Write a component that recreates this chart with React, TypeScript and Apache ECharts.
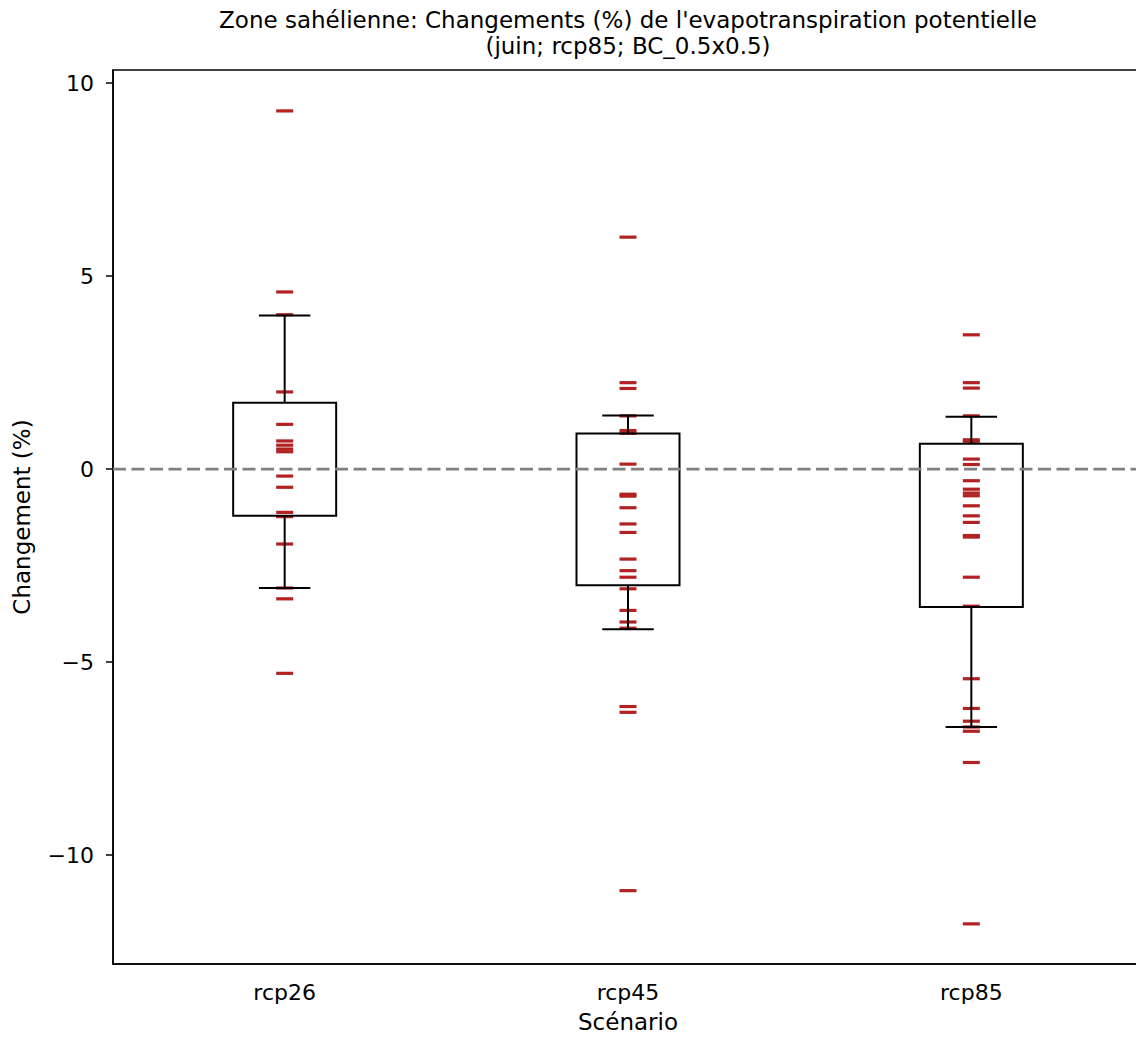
import React, { useEffect, useRef } from "react";
import * as echarts from "echarts";

const categories = ["rcp26", "rcp45", "rcp85"];

const rcp26Values = [9.28, 4.59, 4.0, 2.0, 1.16, 0.73, 0.62, 0.52, 0.45, -0.18, -0.47, -1.12, -1.23, -1.94, -3.08, -3.36, -5.29];
const rcp45Values = [6.01, 2.24, 2.09, 1.38, 1.0, 0.93, 0.13, -0.65, -0.7, -1.0, -1.42, -1.64, -2.33, -2.63, -2.8, -3.1, -3.66, -3.96, -4.12, -6.15, -6.3, -10.92];
const rcp85Values = [3.48, 2.24, 2.1, 1.38, 0.76, 0.72, 0.26, 0.12, -0.3, -0.52, -0.62, -0.69, -0.95, -1.21, -1.38, -1.72, -1.76, -2.8, -3.55, -5.43, -6.2, -6.53, -6.68, -6.79, -7.6, -11.78];

// [whisker low, Q1, Q3, whisker high]
const boxStats = [
  [-3.08, -1.21, 1.72, 3.98],
  [-4.15, -3.01, 0.92, 1.39],
  [-6.68, -3.57, 0.66, 1.36],
];

const yTicks = [-10, -5, 0, 5, 10];
const refLineValue = [0];

const title1 = "Zone sahélienne: Changements (%) de l'evapotranspiration potentielle";
const title2 = "(juin; rcp85; BC_0.5x0.5)";
const yName = "Changement (%)";
const xName = "Scénario";

const FONT = "DejaVu Sans";

export default function App() {
  const ref = useRef<HTMLDivElement>(null);
  useEffect(() => {
    if (!ref.current) return;
    const chart = echarts.init(ref.current, null, { renderer: "svg" });
    const allValues = [rcp26Values, rcp45Values, rcp85Values];
    const scatterData: number[][] = [];
    allValues.forEach((vals, i) => vals.forEach((v) => scatterData.push([i, v])));
    const boxData = boxStats.map((b, i) => [i, ...b]);

    chart.setOption({
      animation: false,
      backgroundColor: "#fff",
      textStyle: { fontFamily: FONT },
      grid: {
        left: 113,
        top: 70,
        right: 33,
        bottom: 72,
        show: true,
        borderColor: "#000",
        borderWidth: 1.5,
        backgroundColor: "transparent",
      },
      graphic: [
        {
          type: "text",
          x: 628,
          y: 20,
          style: {
            text: title1,
            font: `23px "${FONT}"`,
            fill: "#000",
            textAlign: "center",
            textVerticalAlign: "middle",
          },
        },
        {
          type: "text",
          x: 628,
          y: 46,
          style: {
            text: title2,
            font: `23px "${FONT}"`,
            fill: "#000",
            textAlign: "center",
            textVerticalAlign: "middle",
          },
        },
      ],
      xAxis: {
        type: "category",
        data: categories,
        boundaryGap: true,
        name: xName,
        nameLocation: "middle",
        nameGap: 46,
        nameTextStyle: { fontSize: 23, color: "#000", fontFamily: FONT, verticalAlign: "top" },
        axisLine: { onZero: false, lineStyle: { color: "#000", width: 1.5 } },
        axisTick: { alignWithLabel: true, length: 7, lineStyle: { color: "#000", width: 1.5 } },
        axisLabel: { fontSize: 22, color: "#000", fontFamily: FONT, margin: 17 },
        splitLine: { show: false },
      },
      yAxis: {
        type: "value",
        min: -12.82,
        max: 10.34,
        name: yName,
        nameLocation: "middle",
        nameGap: 80,
        nameTextStyle: { fontSize: 23, color: "#000", fontFamily: FONT },
        axisLine: { show: true, onZero: false, lineStyle: { color: "#000", width: 1.5 } },
        axisTick: { show: true, length: 7, customValues: yTicks, lineStyle: { color: "#000", width: 1.5 } },
        axisLabel: {
          fontSize: 22,
          color: "#000",
          fontFamily: FONT,
          margin: 19,
          customValues: yTicks,
          formatter: (v: number) => String(v).replace("-", "\u2212"),
        },
        splitLine: { show: false },
      },
      series: [
        {
          type: "scatter",
          data: scatterData,
          symbol: "rect",
          symbolSize: [17, 3.2],
          itemStyle: { color: "#b22222", opacity: 1 },
          z: 2,
          silent: true,
        },
        {
          type: "custom",
          data: boxData,
          z: 3,
          silent: true,
          renderItem: (params: any, api: any) => {
            const x = api.value(0);
            const low = api.coord([x, api.value(1)]);
            const q1 = api.coord([x, api.value(2)]);
            const q3 = api.coord([x, api.value(3)]);
            const high = api.coord([x, api.value(4)]);
            const bw = api.size([1, 0])[0] * 0.3;
            const cw = bw / 2;
            const st = { stroke: "#000", lineWidth: 2, fill: "none" };
            return {
              type: "group",
              children: [
                { type: "line", shape: { x1: low[0], y1: low[1], x2: q1[0], y2: q1[1] }, style: st },
                { type: "line", shape: { x1: q3[0], y1: q3[1], x2: high[0], y2: high[1] }, style: st },
                { type: "line", shape: { x1: low[0] - cw / 2, y1: low[1], x2: low[0] + cw / 2, y2: low[1] }, style: st },
                { type: "line", shape: { x1: high[0] - cw / 2, y1: high[1], x2: high[0] + cw / 2, y2: high[1] }, style: st },
                { type: "rect", shape: { x: q3[0] - bw / 2, y: q3[1], width: bw, height: q1[1] - q3[1] }, style: st },
              ],
            };
          },
        },
        {
          type: "custom",
          data: refLineValue.map((v) => [0, v]),
          z: 4,
          silent: true,
          renderItem: (params: any, api: any) => {
            const cs = params.coordSys;
            const y = api.coord([0, api.value(1)])[1];
            return {
              type: "line",
              shape: { x1: cs.x, y1: y, x2: cs.x + cs.width, y2: y },
              style: { stroke: "#808080", lineWidth: 2.6, lineDash: [13, 5.5], fill: "none" },
            };
          },
        },
      ],
    });
    return () => chart.dispose();
  }, []);
  return (
    <div style={{ position: "absolute", left: 0, top: 0, width: 1136, height: 1038, overflow: "hidden", background: "#fff" }}>
      <div ref={ref} style={{ width: 1176, height: 1038 }} />
    </div>
  );
}
